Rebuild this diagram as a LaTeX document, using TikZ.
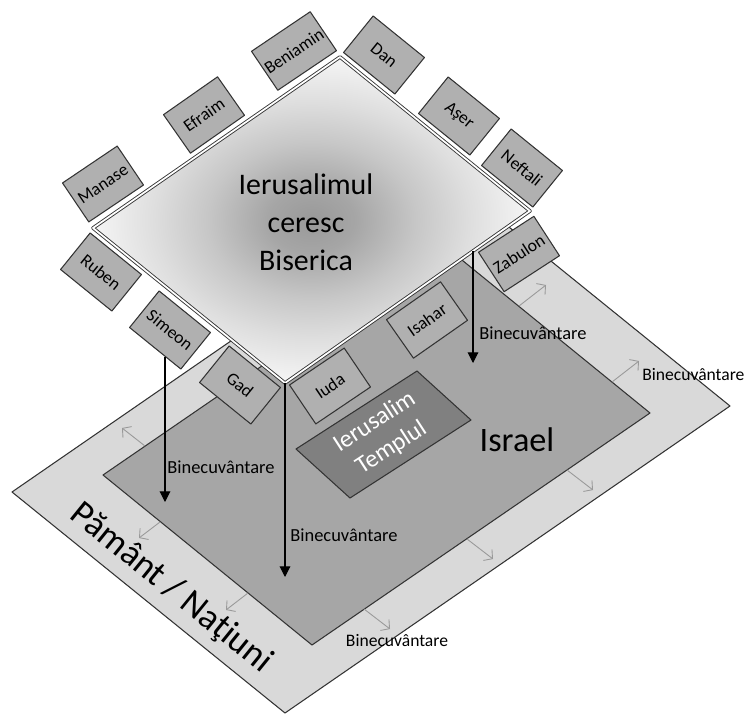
\documentclass[tikz,border=0pt]{standalone}
\usepackage{fontspec}
\setmainfont{Carlito}
\usetikzlibrary{arrows.meta,calc}
\definecolor{earthgray}{gray}{0.85}
\definecolor{israelgray}{gray}{0.65}
\definecolor{templegray}{gray}{0.5}
\definecolor{tribegray}{gray}{0.69}
\pgfdeclareradialshading{heaven}{\pgfpoint{0bp}{0bp}}{color(0bp)=(black!40); color(5bp)=(black!35); color(12bp)=(black!22); color(18bp)=(black!13); color(25bp)=(black!4); color(50bp)=(black!4)}
\tikzset{
  layer/.style={draw=black!80, line width=0.6pt},
  tribe/.style={draw=black!80, fill=tribegray, line width=0.6pt, minimum width=1.32cm, minimum height=0.94cm, inner sep=1pt, font=\fontsize{10}{12}\selectfont},
  blessing/.style={-{Triangle[width=6pt,length=6pt]}, line width=0.6pt},
  spread/.style={-{Straight Barb[length=3.5pt,width=8pt]}, draw=black!40, line width=0.5pt},
  bless label/.style={inner sep=0pt, font=\fontsize{10.5}{12}\selectfont},
}
\begin{document}
\begin{tikzpicture}[x=0.02cm, y=-0.02cm, line join=round]
	\useasboundingbox (0,0) rectangle (747,716);
	% Pamant / Natiuni
	\coordinate (el) at (12,492);
	\coordinate (eb) at (285,713);
	\coordinate (er) at (730,406);
	\coordinate (et) at (457,185);
	\filldraw[layer, fill=earthgray] (el) -- (eb) -- (er) -- (et) -- cycle;
	% Israel
	\coordinate (il) at (103,475);
	\coordinate (ib) at (312,645);
	\coordinate (ir) at (650,413);
	\coordinate (it) at (441,243);
	\filldraw[layer, fill=israelgray] (il) -- (ib) -- (ir) -- (it) -- cycle;
	% Templul
	\coordinate (tl) at (296,449);
	\coordinate (tb) at (350,498);
	\coordinate (tr) at (471,420);
	\coordinate (tt) at (417,371);
	\filldraw[layer, fill=templegray] (tl) -- (tb) -- (tr) -- (tt) -- cycle;
	\node[white, rotate=33, align=center, font=\fontsize{14}{17.5}\selectfont] (templu) at (383,435) {Ierusalim\\Templul};
	\node[font=\fontsize{19.5}{22}\selectfont] (israel) at (517,440) {Israel};
	\node[rotate=-39, font=\fontsize{20.5}{24}\selectfont] (natiuni) at (171,588) {Pământ / Naţiuni};
	% binecuvantarea se raspandeste
	\foreach \sx/\sy/\ex/\ey [count=\i] in {145/446/122/428, 160/522/139/538, 248/593/226/610, 364/609/390/629, 467/539/493/559, 567/470/593/490, 519/306/546/285, 612/382/639/361}
	{
		\coordinate (s\i) at (\sx,\sy);
		\coordinate (e\i) at (\ex,\ey);
		\draw[spread] (s\i) -- (e\i);
	}
	\node[bless label, font=\fontsize{10}{12}\selectfont] (b4) at (397,641) {Binecuvântare};
	\node[bless label, font=\fontsize{10}{12}\selectfont, anchor=west] (b5) at (642,375) {Binecuvântare};
	% Ierusalimul ceresc
	\coordinate (dt) at (340,57);
	\coordinate (dr) at (530,211);
	\coordinate (db) at (285,383);
	\coordinate (dl) at (93,228);
	\shadedraw[shading=heaven, draw=black!80, double=white, double distance=1pt, line width=0.5pt] (dt) -- (dr) -- (db) -- (dl) -- cycle;
	\node[align=center, font=\fontsize{17}{21.5}\selectfont] (ceresc) at (306,222) {Ierusalimul\\ceresc\\Biserica};
	% cele 12 semintii
	\foreach \nm/\txt/\x/\y/\r in {manase/Manase/103/184/34, efraim/Efraim/204/115/35, beniamin/Beniamin/294/51/34, dan/Dan/384/55/-39, aser/Aşer/459/116/-39, neftali/Neftali/522/168/-39, ruben/Ruben/101/272/-39, simeon/Simeon/170/330/-39, gad/Gad/240/385/-39, iuda/Iuda/330/386/34, isahar/Isahar/427/320/35, zabulon/Zabulon/519/254/33}
		\node[tribe, rotate=\r] (\nm) at (\x,\y) {\txt};
	% binecuvantarea coboara
	\coordinate (a1) at (165,502);
	\coordinate (a2) at (285,577);
	\coordinate (a3) at (473,363);
	\coordinate (a1s) at ($(simeon.south west)!0.69!(simeon.south east)$);
	\coordinate (a3s) at ($(db)!0.767!(dr)$);
	\draw[blessing] (a1 |- a1s) -- (a1);
	\draw[blessing] (db) -- (a2);
	\draw[blessing] (a3 |- a3s) -- (a3);
	\node[bless label, anchor=west] (b1) at (167,467) {Binecuvântare};
	\node[bless label, anchor=west] (b2) at (290,535) {Binecuvântare};
	\node[bless label, anchor=west] (b3) at (479,333) {Binecuvântare};
\end{tikzpicture}
\end{document}
